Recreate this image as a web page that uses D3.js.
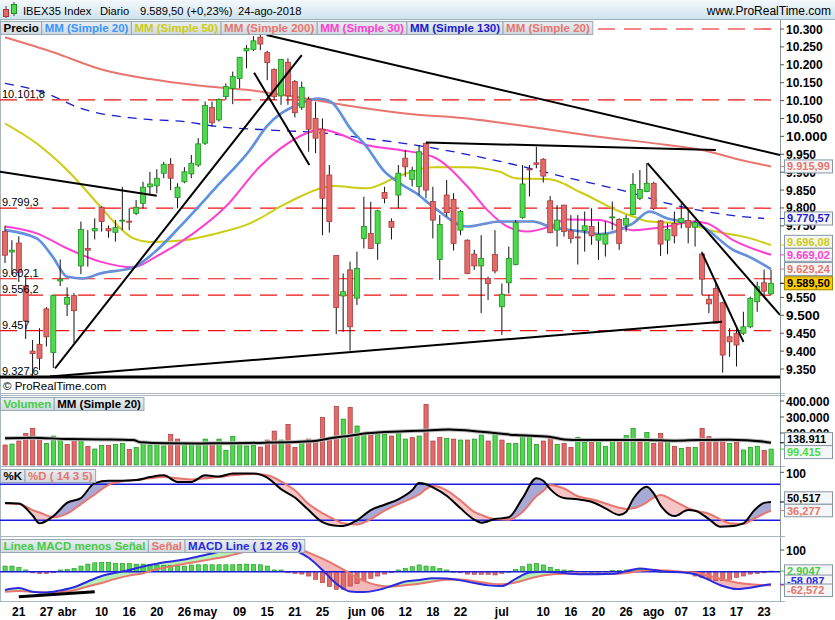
<!DOCTYPE html>
<html><head><meta charset="utf-8">
<script src="https://cdn.jsdelivr.net/npm/d3@7"></script>
<style>body{margin:0;background:#fff;}svg{display:block;font-family:"Liberation Sans",Arial,sans-serif;}</style>
</head><body><svg id="c" width="835" height="620"></svg>
<script>
// ---------------- DATA ----------------
const dates = [
 ...["19","20","21","22","23","26","27","28","29"].map(d=>"2018-03-"+d),
 ...["03","04","05","06","09","10","11","12","13","16","17","18","19","20","23","24","25","26","27","30"].map(d=>"2018-04-"+d),
 ...["02","03","04","07","08","09","10","11","14","15","16","17","18","21","22","23","24","25","28","29","30","31"].map(d=>"2018-05-"+d),
 ...["01","04","05","06","07","08","11","12","13","14","15","18","19","20","21","22","25","26","27","28","29"].map(d=>"2018-06-"+d),
 ...["02","03","04","05","06","09","10","11","12","13","16","17","18","19","20","23","24","25","26","27","30","31"].map(d=>"2018-07-"+d),
 ...["01","02","03","06","07","08","09","10","13","14","15","16","17","20","21","22","23","24"].map(d=>"2018-08-"+d)
];
const tickLabels = [["2018-03-21","21"],["2018-03-27","27"],["2018-04-03","abr"],["2018-04-10","10"],["2018-04-16","16"],["2018-04-20","20"],["2018-04-26","26"],["2018-05-02","may"],["2018-05-09","09"],["2018-05-15","15"],["2018-05-21","21"],["2018-05-25","25"],["2018-06-01","jun"],["2018-06-06","06"],["2018-06-12","12"],["2018-06-18","18"],["2018-06-22","22"],["2018-07-02","jul"],["2018-07-10","10"],["2018-07-16","16"],["2018-07-20","20"],["2018-07-26","26"],["2018-08-01","ago"],["2018-08-07","07"],["2018-08-13","13"],["2018-08-17","17"],["2018-08-23","23"]];

const open = [9734,9677,9702,9582,9400,9419,9518,9396,9596,9531,
 9555,9638,9687,9736,9802,9743,9732,9764,9763,9785,
 9813,9859,9862,9897,9922,9829,9873,9895,9920,9981,
 10081,10046,10111,10134,10162,10239,10243,10277,10234,10187,
 10113,10207,10153,10081,10103,10050,10020,9892,9667,9554,
 9627,9548,9715,9729,9701,9843,9762,9836,9939,9880,
 9860,9980,9818,9656,9836,9824,9738,9710,9671,9638,
 9603,9670,9524,9591,9642,9773,9909,9926,9936,9820,
 9738,9808,9736,9719,9737,9748,9710,9699,9773,9768,
 9752,9782,9827,9846,9869,9764,9710,9757,9759,9765,
 9746,9671,9545,9575,9535,9440,9450,9450,9468,9538,
 9591,9560];
const high = [9750,9710,9721,9608,9431,9464,9523,9555,9656,9578,
 9562,9762,9738,9771,9805,9751,9766,9859,9799,9822,
 9873,9901,9908,9929,9939,9869,9914,9948,9995,10097,
 10097,10106,10148,10181,10221,10255,10280,10286,10239,10190,
 10215,10218,10157,10153,10111,10097,10050,9920,9667,9617,
 9650,9678,9831,9817,9795,9859,9771,9920,9962,9915,
 9976,9983,9859,9780,9878,9841,9794,9712,9683,9724,
 9608,9738,9589,9692,9766,9920,9920,9971,9939,9833,
 9808,9808,9780,9780,9790,9799,9762,9762,9818,9771,
 9780,9897,9906,9925,9873,9766,9757,9790,9813,9794,
 9766,9678,9557,9589,9538,9464,9464,9510,9552,9594,
 9628,9627];
const low = [9646,9613,9593,9434,9329,9347,9413,9353,9582,9498,
 9422,9615,9636,9712,9734,9717,9706,9738,9738,9780,
 9799,9836,9841,9883,9850,9799,9869,9883,9915,9976,
 10027,10041,10102,10090,10134,10190,10239,10241,10157,10102,
 10088,10088,10053,10074,9957,9953,9724,9731,9448,9454,
 9401,9529,9687,9687,9655,9813,9712,9799,9887,9860,
 9836,9827,9715,9599,9776,9681,9724,9615,9627,9506,
 9543,9617,9445,9561,9640,9770,9832,9911,9871,9729,
 9692,9720,9701,9642,9678,9697,9655,9664,9738,9683,
 9734,9780,9822,9844,9794,9666,9671,9701,9743,9701,
 9692,9557,9506,9478,9340,9384,9357,9445,9464,9510,
 9557,9557];
const close = [9668,9682,9620,9485,9393,9380,9440,9555,9601,9550,
 9513,9740,9682,9743,9762,9736,9745,9766,9762,9802,
 9858,9867,9883,9922,9883,9858,9901,9925,9979,10086,
 10038,10103,10139,10167,10221,10246,10267,10258,10206,10111,
 10215,10113,10066,10137,10020,9995,9827,9762,9522,9566,
 9468,9631,9748,9687,9792,9827,9746,9897,9915,9905,
 9957,9850,9766,9754,9787,9701,9790,9617,9638,9659,
 9589,9624,9559,9659,9759,9867,9908,9922,9889,9731,
 9766,9734,9715,9718,9750,9722,9726,9727,9775,9701,
 9771,9866,9852,9869,9799,9699,9740,9722,9771,9746,
 9759,9601,9532,9478,9389,9426,9417,9468,9547,9580,
 9567.5,9589.5];
const volume = [125000,131000,150000,198000,229000,167000,135000,181000,156000,129000,
 158000,156000,117000,100000,123000,123000,129000,135000,98000,110000,
 148000,125000,140000,119000,192000,162000,131000,140000,140000,162000,
 140000,162000,92000,179000,129000,119000,125000,112000,156000,212000,
 156000,254000,110000,146000,162000,156000,298000,158000,367000,287000,
 360000,244000,192000,192000,192000,192000,181000,204000,162000,171000,
 181000,379000,150000,173000,167000,162000,156000,156000,162000,187000,
 150000,204000,156000,135000,135000,187000,171000,129000,150000,179000,
 129000,135000,110000,173000,142000,150000,160000,117000,162000,146000,
 185000,229000,144000,204000,135000,198000,150000,117000,104000,110000,
 110000,229000,177000,167000,167000,135000,142000,94000,110000,117000,
 92000,99415];
const volMA = [[0,167000],[4,171000],[9,162000],[14,160000],[18.6,156000],[19.6,142000],[23.4,136000],[28.3,135000],[33.1,136000],[37.9,140000],[42.8,146000],[45.2,152000],[47.6,170000],[50,183000],[52.4,198000],[57.2,210000],[60.1,214000],[64.3,222000],[69,208000],[74,187000],[78.8,177000],[81,160000],[83.6,156000],[93,156000],[97,152000],[100.5,156000],[105,158000],[110,146000],[111,138911]];

// moving averages [barIndex, value]
const mm200 = [[0,10277],[7,10235],[14,10187],[21,10160],[28,10142],[35,10130],[43,10108],[50,10085],[59,10062],[67,10050],[76,10027],[86,9999],[96,9976],[101,9962],[106,9937],[111,9915.99]];
const mm130 = [[0,10148],[6,10120],[11,10078],[19,10050],[26,10041],[31,10027],[38,10018],[47,10008],[52,9995],[58,9980],[72,9929],[81,9887],[91,9841],[96,9813],[105,9780],[110,9770.57]];
const mm50 = [[0,10036],[4.6,9980],[9,9906],[13.8,9804],[16,9757],[18.6,9715],[21,9705],[26,9710],[30.7,9729],[35.5,9757],[40.3,9808],[42.8,9832],[47.5,9861],[52.4,9855],[57.2,9890],[62,9914],[67,9914],[71.7,9901],[74,9883],[78.9,9880],[83.7,9841],[88.6,9794],[91,9776],[93.4,9762],[98.3,9757],[103,9734],[108,9715],[111,9696.08]];
const mm30 = [[0,9748],[4.6,9729],[9,9687],[13.8,9650],[18.6,9634],[21.9,9664],[27.3,9729],[32,9804],[36.9,9915],[42.8,10001],[45.7,10020],[47.5,10013],[52.4,9976],[57.2,9962],[62,9943],[67,9860],[69.9,9794],[72.8,9748],[75.7,9734],[78.9,9748],[81.4,9768],[86.2,9766],[91,9738],[95.9,9748],[99.8,9762],[101.7,9757],[105.5,9710],[111,9669.02]];
const mm20 = [[0,9738],[4.6,9715],[6.9,9664],[9,9608],[11.3,9603],[13.8,9617],[18.6,9634],[22,9682],[25.8,9757],[30.7,9860],[35.5,9962],[37.9,10027],[42.8,10092],[45.4,10106],[47.2,10097],[50.2,10018],[52.4,9971],[54.8,9906],[57.2,9869],[59.6,9841],[62,9804],[67,9748],[71.7,9762],[76.5,9762],[78.9,9748],[83.7,9734],[86.2,9727],[91,9757],[93.4,9790],[95.9,9771],[100.7,9752],[105.5,9683],[108,9662],[111,9629.24]];

// drawn objects
const levelLines = [10300, 10101.8, 9799.3, 9602.1, 9556.2, 9457];
const levelLabels = [10101.8, 9799.3, 9602.1, 9556.2, 9457, 9327.6];
const supportLine = 9327.6;
const trendLines = [
 [[37.9,10283],[112.3,9948]],
 [[7.25,9352],[43,10227]],
 [[36.1,10178],[44.1,9920]],
 [[-0.72,9901],[22,9834]],
 [[6.5,9329],[103.9,9482]],
 [[61,9983],[103,9962]],
 [[93.1,9925],[112.3,9501]],
 [[101,9675],[107,9426]]
];
const priceTicks = [9350,9400,9450,9500,9550,9750,9800,9850,9900,9950,10000,10050,10100,10150,10200,10250,10300];

// stochastic
const stochIdx = [0,2,4,5,7,9,11,13,15,17,19,21,23,25,27,29,31,33,36,38,40,42,44,46,48,49,51,53,55,57,59,60,61,62,64,66,68,69,71,73,75,77,78,79,81,83,85,87,89,90,91,93,94,95,97,99,100,102,103.6,105,107,108.6,110,111];
const stochK = [49,48,28,15,27,49,57,82,86,86,87,92,95,84,84,95,93,98,98,91,72,58,37,17,11,10.5,20,37,46,55,70,82,80,75,61,40,21,16,22,25,57,90,86,72,57,55,51,40,29,34,55,76,65,45,27,37,36,22,9.4,10,15,37,49,50.517];
const stochD = [48,47,37,33,25,31,47,63,79,85,87,90,92,90,88,90,92,95,97,95,85,70,47,32,20,15,13,22,36,47,57,63,72,77,70,53,34,29,22,21,34,60,69,79,73,60,55,48,41,39,40,50,58,62,52,40,36,31,22,15,14,23,31,36.277];

// MACD
const macdIdx = [0,2,4,6,8,10,12,14,16,18,20,22,24,26,28,30,32,34,36,38,40,42,44,46,48,50,52,54,56,58,60,62,64,66,68,70,72,74,76,78,80,82,84,86,88,90,92,94,96,98,100,102,104,106,108,110,111];
const macdLine = [-84,-75,-92,-96,-86,-72,-45,-20,-5,8,24,37,47,56,70,84,100,116,128,134,128,100,64,8,-55,-91,-94,-85,-66,-45,-38,-30,-31,-40,-52,-63,-66,-33,-4,0,-3,-9,-12,-12,-10,2,15,8,0,-2,-12,-38,-66,-80,-74,-62,-58.087];
const macdSignal = [-92,-89,-93,-96,-93,-86,-68,-52,-33,-18,-7,12,24,37,47,58,70,86,100,115,122,112,88,60,28,-8,-42,-62,-68,-62,-56,-45,-37,-36,-44,-53,-58,-50,-32,-18,-11,-8,-9,-10,-10,-6,3,8,5,0,-4,-18,-36,-50,-58,-62,-62.572];
const macdHist = [26,26,20,8,-5,-8,-8,-5,8,11,
 15,26,35,41,43,43,38,38,38,35,
 35,32,29,29,28,26,26,31,32,32,
 32,32,32,32,34,35,34,32,26,8,
 8,-5,-8,-11,-20,-35,-51,-69,-81,-81,
 -66,-54,-41,-31,-20,-11,-5,8,15,23,
 31,26,23,15,8,1,-5,-11,-12,-12,
 -12,-15,-8,1,11,23,35,38,31,20,
 11,8,5,2,2,1,1,2,5,6,
 8,11,14,11,5,1,1,-5,-5,-8,
 -20,-28,-35,-41,-41,-35,-26,-20,-11,-8,
 -5,2.9047];
const macdDrawnLine = [[2,-115],[13,-92]];

// ---------------- LAYOUT ----------------
const AX = 780;
const P = {main:[20,393], vol:[395,466], sto:[467,536], mac:[537,601]};
const x = d3.scaleLinear().domain([0,111]).range([5,771]);
const y = d3.scaleLinear().domain([9350,10300]).range([369,29]);
const yV = d3.scaleLinear().domain([0,400000]).range([465,401]);
const yS = d3.scaleLinear().domain([0,100]).range([532.3,472.3]);
const yM = d3.scaleLinear().domain([0,100]).range([571.7,550]);

const loc = d3.formatLocale({decimal:",",thousands:".",grouping:[3],currency:["","€"],minus:"-"});
const fInt = loc.format(","), f2 = loc.format(",.2f"), f1 = loc.format(",.1f"), f3 = loc.format(",.3f"), f4 = loc.format(",.4f");
const fLvl = v => Number.isInteger(v) ? fInt(v) : f1(v);

const RED="#e46a6a", REDB="#a83a3a", GRN="#4fd94f", GRNB="#1f8f1f";
const C20="#3a96ff", C50="#cccc10", C200="#e8756e", C30="#ff3fd0", C130="#1a1ad0";

const svg = d3.select("#c");
const defs = svg.append("defs");
function clip(id, y0, y1){ defs.append("clipPath").attr("id",id).append("rect").attr("x",0).attr("y",y0).attr("width",AX).attr("height",y1-y0); }
clip("cm",P.main[0]+1,P.main[1]); clip("cv",P.vol[0],P.vol[1]); clip("cs",P.sto[0]+1,P.sto[1]); clip("cc",P.mac[0]+1,P.mac[1]);

svg.append("rect").attr("width",835).attr("height",620).attr("fill","#fff");

// header
const hg = defs.append("linearGradient").attr("id","hg").attr("x1",0).attr("y1",0).attr("x2",0).attr("y2",1);
hg.append("stop").attr("offset","0%").attr("stop-color","#f3f9fc");
hg.append("stop").attr("offset","100%").attr("stop-color","#cfe3ee");
svg.append("rect").attr("x",0).attr("y",0).attr("width",835).attr("height",19).attr("fill","url(#hg)");
svg.append("line").attr("x1",0).attr("x2",835).attr("y1",19.5).attr("y2",19.5).attr("stroke","#9fb0bd");
svg.append("line").attr("x1",6).attr("x2",6).attr("y1",6).attr("y2",18).attr("stroke","#444");
svg.append("rect").attr("x",3.5).attr("y",9.5).attr("width",5).attr("height",7).attr("fill",RED).attr("stroke",REDB);
svg.append("line").attr("x1",14).attr("x2",14).attr("y1",2).attr("y2",16).attr("stroke","#444");
svg.append("rect").attr("x",11.5).attr("y",4.5).attr("width",5).attr("height",9).attr("fill",GRN).attr("stroke",GRNB);
const ht = svg.append("g").attr("font-size",11.2).attr("fill","#000");
ht.append("text").attr("x",23).attr("y",14.5).text("IBEX35 Index");
ht.append("text").attr("x",100).attr("y",14.5).text("Diario");
ht.append("text").attr("x",140).attr("y",14.5).text("9.589,50 (+0,23%)");
ht.append("text").attr("x",238).attr("y",14.5).text("24-ago-2018");
svg.append("text").attr("x",831).attr("y",15).attr("text-anchor","end").attr("font-size",12).text("www.ProRealTime.com");

// panel frames
const frame = svg.append("g").attr("stroke","#aab6c0").attr("fill","none");
[393.5,395.5,466.5,536.5,601.5].forEach(yy=>frame.append("line").attr("x1",0).attr("x2",785).attr("y1",yy).attr("y2",yy));
frame.append("line").attr("x1",0.5).attr("x2",0.5).attr("y1",20).attr("y2",601);
svg.append("line").attr("x1",AX+0.5).attr("x2",AX+0.5).attr("y1",20).attr("y2",602).attr("stroke","#8c9aa6");

// ---------------- MAIN PANEL ----------------
const gm = svg.append("g").attr("clip-path","url(#cm)");
levelLines.forEach(v=>gm.append("line").attr("x1",0).attr("x2",AX).attr("y1",y(v)).attr("y2",y(v)).attr("stroke","#ee1111").attr("stroke-width",1.2).attr("stroke-dasharray","17,9"));
gm.append("line").attr("x1",0).attr("x2",AX).attr("y1",y(supportLine)).attr("y2",y(supportLine)).attr("stroke","#000").attr("stroke-width",3);

const lineGen = sc => d3.line().x(d=>x(d[0])).y(d=>sc(d[1])).curve(d3.curveMonotoneX);
gm.append("path").attr("d",lineGen(y)(mm200)).attr("fill","none").attr("stroke",C200).attr("stroke-width",2);
gm.append("path").attr("d",lineGen(y)(mm130)).attr("fill","none").attr("stroke",C130).attr("stroke-width",1.3).attr("stroke-dasharray","9,7");
gm.append("path").attr("d",lineGen(y)(mm50)).attr("fill","none").attr("stroke",C50).attr("stroke-width",2);
gm.append("path").attr("d",lineGen(y)(mm30)).attr("fill","none").attr("stroke",C30).attr("stroke-width",2);
gm.append("path").attr("d",lineGen(y)(mm20)).attr("fill","none").attr("stroke",C20).attr("stroke-width",2.6);
gm.append("path").attr("d",lineGen(y)(mm20)).attr("fill","none").attr("stroke",C200).attr("stroke-width",0.8).attr("opacity",0.8);

const idx = d3.range(dates.length);
const cg = gm.append("g");
idx.forEach(i=>{
  const up = close[i] >= open[i];
  cg.append("line").attr("x1",x(i)).attr("x2",x(i)).attr("y1",y(high[i])).attr("y2",y(low[i])).attr("stroke","#111").attr("stroke-width",1);
  const t = y(Math.max(open[i],close[i])), b = y(Math.min(open[i],close[i]));
  cg.append("rect").attr("x",x(i)-2.5).attr("y",t).attr("width",5).attr("height",Math.max(1,b-t))
    .attr("fill",up?GRN:RED).attr("stroke",up?GRNB:REDB).attr("stroke-width",0.8);
});
trendLines.forEach(l=>gm.append("line").attr("x1",x(l[0][0])).attr("y1",y(l[0][1])).attr("x2",x(l[1][0])).attr("y2",y(l[1][1])).attr("stroke","#000").attr("stroke-width",2));

levelLabels.forEach(v=>svg.append("text").attr("x",2).attr("y",y(v)-2).attr("font-size",11).text(fLvl(v)));
svg.append("text").attr("x",3).attr("y",390).attr("font-size",11.5).text("© ProRealTime.com");

// price axis
const ax = svg.append("g").attr("font-weight","bold").attr("font-size",12);
priceTicks.forEach(v=>{
  ax.append("line").attr("x1",AX).attr("x2",AX+4).attr("y1",y(v)).attr("y2",y(v)).attr("stroke","#555");
  const big = (v===10000||v===9500);
  ax.append("text").attr("x",AX+6).attr("y",y(v)+4.5).attr("font-size",big?13.5:12).text(fInt(v));
});

// label boxes
function boxes(list, h){
  const s = list.slice().sort((a,b)=>b.y-a.y);
  for(let k=1;k<s.length;k++){ if(s[k-1].y - s[k].y < h) s[k].y = s[k-1].y - h; }
  list.forEach(d=>{
    svg.append("line").attr("x1",AX).attr("x2",AX+4).attr("y1",d.y0).attr("y2",d.y0).attr("stroke",d.color);
    svg.append("rect").attr("x",784.5).attr("y",d.y-h/2).attr("width",48).attr("height",h)
      .attr("fill",d.bg||"#f5f6f7").attr("stroke",d.bd||"#8797a4");
    const t = svg.append("text").attr("x",787).attr("y",d.y+4).attr("font-weight","bold")
      .attr("font-size",11).attr("fill",d.tc||d.color).text(d.t);
    const w = t.node().getComputedTextLength();
    if (w > 43) t.attr("textLength",43).attr("lengthAdjust","spacingAndGlyphs");
  });
}
const last = a => a[a.length-1][1];
boxes([
  {y0:y(last(mm200)), y:y(last(mm200)), t:f2(last(mm200)), color:C200},
  {y0:y(last(mm130)), y:y(last(mm130)), t:f2(last(mm130)), color:C130},
  {y0:y(last(mm50)), y:y(last(mm50)), t:f2(last(mm50)), color:C50},
  {y0:y(last(mm30)), y:y(last(mm30)), t:f2(last(mm30)), color:C30},
  {y0:y(last(mm20)), y:y(last(mm20)), t:f2(last(mm20)), color:C200},
  {y0:y(close[111]), y:y(close[111]), t:f2(close[111]), color:"#000", bg:"#ffcc00", bd:"#a08000"}
], 13);

// ---------------- VOLUME ----------------
const gv = svg.append("g").attr("clip-path","url(#cv)");
idx.forEach(i=>{
  const up = i===0 ? close[i]>=open[i] : close[i]>=close[i-1];
  gv.append("rect").attr("x",x(i)-2).attr("y",yV(volume[i])).attr("width",4.2).attr("height",yV(0)-yV(volume[i]))
    .attr("fill",up?GRN:RED).attr("stroke",up?GRNB:REDB).attr("stroke-width",0.7);
});
gv.append("path").attr("d",lineGen(yV)(volMA)).attr("fill","none").attr("stroke","#bbb").attr("stroke-width",4);
gv.append("path").attr("d",lineGen(yV)(volMA)).attr("fill","none").attr("stroke","#000").attr("stroke-width",2);
[400000,300000,200000].forEach(v=>{
  ax.append("line").attr("x1",AX).attr("x2",AX+4).attr("y1",yV(v)).attr("y2",yV(v)).attr("stroke","#555");
  ax.append("text").attr("x",AX+6).attr("y",yV(v)+4.5).text(fInt(v));
});
boxes([
  {y0:yV(last(volMA)), y:yV(last(volMA))+1, t:fInt(last(volMA)), color:"#000"},
  {y0:yV(volume[111]), y:yV(volume[111])+3, t:fInt(volume[111]), color:"#33cc33", tc:"#44dd44"}
], 13);

// ---------------- STOCHASTIC ----------------
const gs = svg.append("g").attr("clip-path","url(#cs)");
function betweenFill(g, ix, a, b, sc, colA, colB, id){
  const pts = ix.map((i,k)=>({i, a:a[k], b:b[k]}));
  const cur = d3.curveMonotoneX;
  const area = d3.area().x(d=>x(d.i)).y0(d=>sc(d.a)).y1(d=>sc(d.b)).curve(cur);
  const up = d3.area().x(d=>x(d.i)).y0(0).y1(d=>sc(d.b)).curve(cur);
  const dn = d3.area().x(d=>x(d.i)).y0(d=>sc(d.b)).y1(700).curve(cur);
  defs.append("clipPath").attr("id",id+"A").append("path").attr("d",up(pts));
  defs.append("clipPath").attr("id",id+"B").append("path").attr("d",dn(pts));
  g.append("path").attr("d",area(pts)).attr("fill",colA).attr("clip-path",`url(#${id}A)`);
  g.append("path").attr("d",area(pts)).attr("fill",colB).attr("clip-path",`url(#${id}B)`);
}
betweenFill(gs, stochIdx, stochK, stochD, yS, "#a9a9d6", "#f6c6c6", "sf");
[80,20].forEach(v=>gs.append("line").attr("x1",0).attr("x2",AX).attr("y1",yS(v)).attr("y2",yS(v)).attr("stroke","#1a1ae0").attr("stroke-width",1.4));
const pair = (ix, vals) => ix.map((i,k)=>[i, vals[k]]);
gs.append("path").attr("d",lineGen(yS)(pair(stochIdx,stochD))).attr("fill","none").attr("stroke",C200).attr("stroke-width",2);
gs.append("path").attr("d",lineGen(yS)(pair(stochIdx,stochK))).attr("fill","none").attr("stroke","#000").attr("stroke-width",2);
ax.append("line").attr("x1",AX).attr("x2",AX+4).attr("y1",yS(100)).attr("y2",yS(100)).attr("stroke","#555");
ax.append("text").attr("x",AX+6).attr("y",yS(100)+6).text("100");
boxes([
  {y0:yS(stochK[stochK.length-1]), y:yS(stochK[stochK.length-1]), t:f3(stochK[stochK.length-1]), color:"#000"},
  {y0:yS(stochD[stochD.length-1]), y:yS(stochD[stochD.length-1]), t:f3(stochD[stochD.length-1]), color:C200}
], 12.5);

// ---------------- MACD ----------------
const gc = svg.append("g").attr("clip-path","url(#cc)");
betweenFill(gc, macdIdx, macdLine, macdSignal, yM, "#b6efb2", "#f5b8b8", "mf");
idx.forEach(i=>{
  const v = macdHist[i], up = v>=0;
  gc.append("rect").attr("x",x(i)-2).attr("y",Math.min(yM(v),yM(0))).attr("width",4.2).attr("height",Math.max(0.8,Math.abs(yM(v)-yM(0))))
    .attr("fill",up?GRN:RED).attr("stroke",up?GRNB:REDB).attr("stroke-width",0.6);
});
gc.append("line").attr("x1",0).attr("x2",AX).attr("y1",yM(0)).attr("y2",yM(0)).attr("stroke","#1a1ae0").attr("stroke-width",1.6);
gc.append("path").attr("d",lineGen(yM)(pair(macdIdx,macdSignal))).attr("fill","none").attr("stroke",C200).attr("stroke-width",2);
gc.append("path").attr("d",lineGen(yM)(pair(macdIdx,macdLine))).attr("fill","none").attr("stroke","#2a2ae0").attr("stroke-width",2);
gc.append("line").attr("x1",x(macdDrawnLine[0][0])).attr("y1",yM(macdDrawnLine[0][1])).attr("x2",x(macdDrawnLine[1][0])).attr("y2",yM(macdDrawnLine[1][1])).attr("stroke","#000").attr("stroke-width",3);
ax.append("line").attr("x1",AX).attr("x2",AX+4).attr("y1",yM(100)).attr("y2",yM(100)).attr("stroke","#555");
ax.append("text").attr("x",AX+6).attr("y",yM(100)+4.5).text("100");
const mLast = macdLine[macdLine.length-1], sLast = macdSignal[macdSignal.length-1], hLast = macdHist[macdHist.length-1];
boxes([{y0:yM(hLast), y:yM(hLast), t:f4(hLast), color:"#33cc33", tc:"#44cc44"}], 12.5);
boxes([{y0:yM(mLast), y:yM(mLast)-3, t:f3(mLast), color:"#2a2ae0"}], 12.5);
boxes([{y0:yM(sLast), y:yM(sLast)+5, t:f3(sLast), color:C200}], 12.5);

// ---------------- X AXIS ----------------
const xl = svg.append("g").attr("font-weight","bold").attr("font-size",12).attr("text-anchor","middle");
tickLabels.forEach(([d,t])=>xl.append("text").attr("x",x(dates.indexOf(d))).attr("y",616).text(t));

// ---------------- LEGENDS ----------------
const lg1 = defs.append("linearGradient").attr("id","lg").attr("x1",0).attr("y1",0).attr("x2",0).attr("y2",1);
lg1.append("stop").attr("offset","0%").attr("stop-color","#e9eef1");
lg1.append("stop").attr("offset","100%").attr("stop-color","#cfd8de");
function legend(y0, items){
  let cx = 0.5;
  items.forEach(([t,c])=>{
    const g = svg.append("g");
    const r = g.append("rect").attr("x",cx).attr("y",y0+0.5).attr("height",13).attr("fill","url(#lg)").attr("stroke","#98a8b5");
    const tx = g.append("text").attr("x",cx+3).attr("y",y0+11).attr("font-weight","bold").attr("font-size",11.5).attr("fill",c).text(t);
    const w = tx.node().getComputedTextLength()+6;
    r.attr("width",w);
    cx += w;
  });
}
legend(21, [["Precio","#000"],["MM (Simple 20)",C20],["MM (Simple 50)",C50],["MM (Simple 200)",C200],["MM (Simple 30)",C30],["MM (Simple 130)",C130],["MM (Simple 20)",C200]]);
legend(397, [["Volumen","#44cc44"],["MM (Simple 20)","#000"]]);
legend(469, [["%K","#000"],["%D ( 14 3 5)",C200]]);
legend(539, [["Línea MACD menos Señal","#44cc44"],["Señal",C200],["MACD Line ( 12 26 9)","#2a2ae0"]]);
</script></body></html>
